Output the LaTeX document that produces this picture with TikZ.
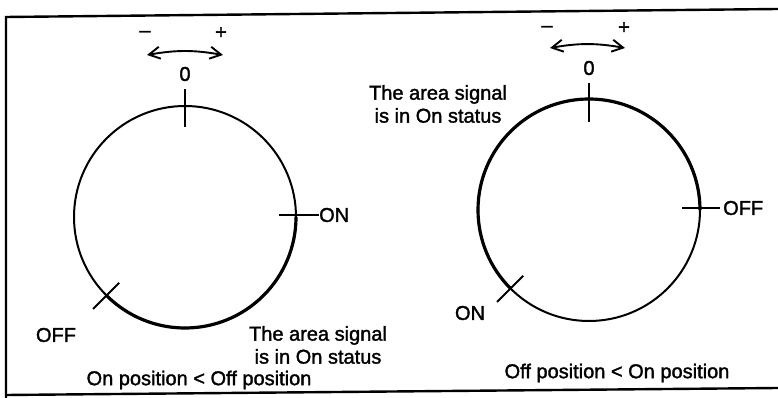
\documentclass[tikz,border=0pt]{standalone}
\usepackage{fontspec}
\setmainfont{Liberation Sans}[BoldFont=Liberation Sans, BoldFeatures={FakeBold=1.6}]
\usetikzlibrary{arrows.meta,calc}
\begin{document}
\begin{tikzpicture}[x=1pt,y=1pt,
  lbl/.style={font=\fontsize{20}{23}\selectfont\bfseries, inner sep=0pt},
  thincirc/.style={line width=2pt},
  thickarc/.style={line width=3.2pt},
  tickline/.style={line width=1.9pt},
  frameline/.style={line width=2.4pt},
  rotarrow/.style={line width=1.9pt,
    {Straight Barb[length=11pt,width=12pt]}-{Straight Barb[length=11pt,width=12pt]},
    bend left=10}]
\useasboundingbox (0,0) rectangle (778,398);
% frame (open on the right)
\coordinate (ftl) at (6,381);
\coordinate (ftr) at (778,389);
\coordinate (fbl) at (6,0);
\coordinate (fbb) at (6,3);
\coordinate (fbr) at (778,10);
\draw[frameline] (fbl) -- (ftl) -- (ftr);
\draw[frameline] (fbb) -- (fbr);

% ---------- left dial ----------
\coordinate (L) at (185,181);
\draw[thincirc] (L) circle[radius=111pt];
\draw[thickarc] (L) ++(-135:111pt) arc[start angle=-135, end angle=0, radius=111pt];
\coordinate (Ltop1) at (185,309);
\coordinate (Ltop2) at (185,271);
\draw[tickline] (Ltop1) -- (Ltop2);
\node[lbl] (Lzero) at (185,324) {0};
\coordinate (La) at (147,343);
\coordinate (Lb) at (223,343);
\draw[rotarrow] (La) to (Lb);
\node[lbl] (Lminus) at (145,364) {–};
\node[lbl] (Lplus) at (221,365) {+};
\node[lbl, anchor=west] (Lon) at (319,183) {ON};
\coordinate (Lon1) at (279,183);
\draw[tickline] (Lon1) -- (Lon.west);
\coordinate (Loff1) at ($(L)+(225:93pt)$);
\coordinate (Loff2) at ($(L)+(225:130pt)$);
\draw[tickline] (Loff1) -- (Loff2);
\node[lbl] (Loff) at (56,63) {OFF};
\node[lbl, align=center] (Ltxt) at (318,53) {The area signal\\is in On status};
\node[lbl] (Lcap) at (199,18) {On position < Off position};

% ---------- right dial ----------
\coordinate (R) at (589,188);
\draw[thincirc] (R) circle[radius=111pt];
\draw[thickarc] (R) ++(0:111pt) arc[start angle=0, end angle=225, radius=111pt];
\coordinate (Rtop1) at (589,315);
\coordinate (Rtop2) at (589,276);
\draw[tickline] (Rtop1) -- (Rtop2);
\node[lbl] (Rzero) at (589,330) {0};
\coordinate (Ra) at (550,350);
\coordinate (Rb) at (625,350);
\draw[rotarrow] (Ra) to (Rb);
\node[lbl] (Rminus) at (547,369) {–};
\node[lbl] (Rplus) at (624,370) {+};
\node[lbl, anchor=west] (Roff) at (723,190) {OFF};
\coordinate (Roff1) at (682,190);
\draw[tickline] (Roff1) -- ($(Roff.west)+(-3,0)$);
\coordinate (Ron1) at ($(R)+(225:93pt)$);
\coordinate (Ron2) at ($(R)+(225:130pt)$);
\draw[tickline] (Ron1) -- (Ron2);
\node[lbl] (Ron) at (470,85) {ON};
\node[lbl, align=center] (Rtxt) at (438,294) {The area signal\\is in On status};
\node[lbl] (Rcap) at (617,25) {Off position < On position};
\end{tikzpicture}
\end{document}
